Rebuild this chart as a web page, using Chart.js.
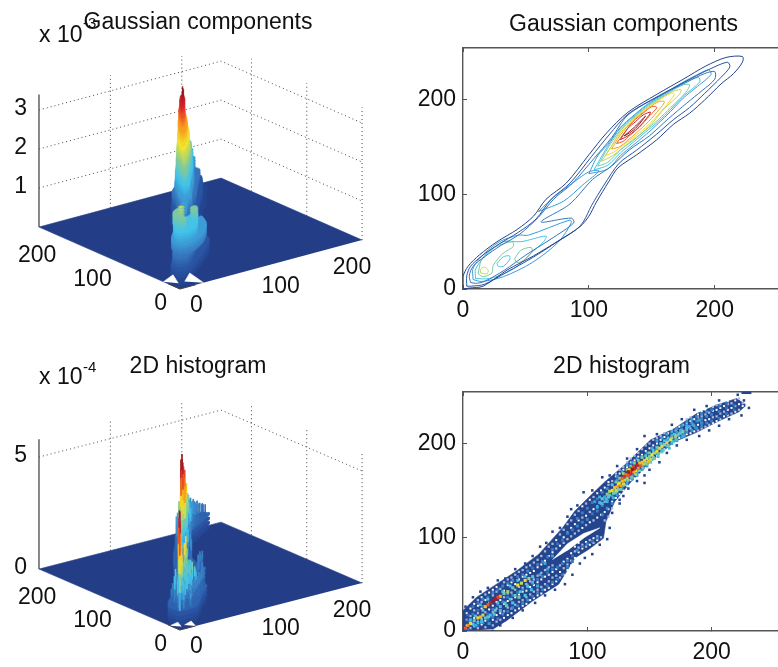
<!DOCTYPE html>
<html>
<head>
<meta charset="utf-8">
<title>Gaussian components and 2D histogram</title>
<script src="https://cdn.jsdelivr.net/npm/chart.js@4"></script>
<style>
  html, body { margin: 0; padding: 0; background: #fff; width: 778px; height: 667px; overflow: hidden; }
  canvas { position: absolute; filter: blur(0.45px); }
</style>
</head>
<body>
<canvas id="surfTop" style="left:0;top:0" width="396" height="330"></canvas>
<canvas id="contourTop" style="left:400px;top:0" width="384" height="330"></canvas>
<canvas id="surfBottom" style="left:0;top:340px" width="396" height="327"></canvas>
<canvas id="histBottom" style="left:400px;top:340px" width="384" height="327"></canvas>
<script>
// --- data ---
const titleGauss = 'Gaussian components';
const titleHist = '2D histogram';
const xyTicks = [0, 100, 200];
const planeTicks = [0, 100, 200];
const gaussZTicks = [1, 2, 3];
const histZTicks = [0, 5];

// contour heights (x 10^-3) and the closed outlines at each height
const contourLevels = [0.1, 0.4, 0.7, 1.0, 1.3, 1.6, 1.9, 2.2, 2.5, 2.8, 3.1, 3.35];
const contourShapes = [
  [[[0,0],[0,13],[4,24],[13,36],[27,50],[43,63],[56,77],[66,95],[82,112],[100,142],[114,165],[131,187],[154,206],[175,222],[193,236],[209,245],[222,246],[222,240],[215,228],[205,217],[192,200],[180,186],[167,174],[154,158],[138,142],[123,128],[116,114],[106,92],[100,77],[93,66],[77,52],[56,35],[35,20],[16,3],[5,1]]],
  [[[3,3],[3,14],[6,24],[15,35],[28,47],[44,60],[58,74],[70,95],[85,112],[102,140],[116,163],[131,185],[155,204],[176,219],[195,232],[210,240],[212,235],[205,224],[192,207],[180,192],[167,179],[154,164],[138,147],[124,133],[112,110],[102,88],[96,72],[90,63],[75,50],[55,33],[35,18],[17,5],[7,3]]],
  [[[6,7],[5,14],[8,24],[17,34],[30,46],[45,58],[60,76],[72,95],[87,112],[104,138],[118,160],[131,184],[157,205],[178,219],[192,228],[200,230],[200,222],[190,210],[178,197],[163,180],[148,162],[132,147],[118,130],[103,116],[85,90],[62,71],[86,75],[88,70],[70,53],[50,36],[33,20],[17,8],[10,6]]],
  [[[8,10],[8,22],[15,35],[29,50],[44,57],[52,57],[85,73],[86,70],[76,50],[55,28],[32,13],[15,8]],
   [[60,82],[72,97],[88,113],[100,124],[108,125],[95,110],[80,93]],
   [[100,122],[107,141],[115,153],[125,171],[135,183],[145,194],[155,203],[165,211],[175,219],[185,226],[195,232],[197,227],[185,213],[175,202],[165,188],[155,175],[145,163],[135,152],[125,141],[115,127]]],
  [[[10,11],[10,21],[17,34],[32,50],[46,50],[66,56],[64,50],[54,38],[44,25],[34,17],[21,11]],
   [[104,126],[115,151],[125,170],[135,182],[145,193],[155,202],[165,210],[175,218],[187,224],[188,219],[175,204],[165,190],[155,177],[145,166],[135,155],[125,144],[115,131]]],
  [[[12,16],[15,32],[25,44],[39,50],[40,45],[32,38],[24,25],[23,17],[16,13]],
   [[41,32],[46,41],[54,44],[55,40],[49,31],[43,28]],
   [[107,130],[115,149],[125,168],[135,181],[145,192],[155,201],[165,209],[175,216],[180,216],[177,208],[165,192],[155,179],[145,168],[135,157],[125,147],[115,134]]],
  [[[14,17],[14,21],[17,23],[20,20],[19,16]],
   [[110,135],[118,151],[125,167],[135,180],[145,191],[155,200],[165,208],[173,211],[172,206],[160,191],[150,175],[140,163],[130,153],[120,142]]],
  [[[113,141],[125,165],[135,179],[145,190],[155,199],[165,207],[168,206],[160,192],[150,177],[140,165],[130,155],[120,145]]],
  [[[118,148],[125,163],[135,178],[145,189],[155,198],[160,198],[154,187],[145,174],[135,162],[125,151]]],
  [[[122,154],[128,165],[135,177],[143,186],[150,193],[154,192],[148,183],[140,171],[133,163],[127,156]]],
  [[[125,158],[131,170],[137,177],[143,184],[149,187],[143,176],[137,168],[131,162]]],
  [[[128,162],[136,171],[145,183],[137,170],[131,164]]]
];
// small closed ring round the dip between the two low bumps, at height 1.3
const contourDip = [[27,27],[32,34],[37,35],[37,31],[32,24],[28,24]];

// 2D histogram: outline of the occupied band and the white gap between its branches
const histBand = [[0,0],[0,22],[11,36],[27,50],[43,64],[61,82],[80,110],[90,128],[103,145],[114,159],[130,177],[151,204],[170,216],[188,232],[204,241],[220,248],[228,241],[222,234],[204,223],[188,212],[170,202],[154,184],[135,159],[122,138],[115,117],[113,99],[101,87],[90,78],[77,50],[56,32],[35,11],[24,2]];
const histGap = [[72,76],[84,93],[97,104],[110,110],[98,100],[84,86]];
const histTopRun = [[224,254],[232,254]];
// cells as [x, y, height x 10^-4]
const ridgeCells = [[110,137,1.8],[112,141,2.1],[114,143,1.6],[116,146,2.4],[117,143,2],[118,149,2.8],[120,150,3.2],[121,147,2.3],[122,153,3.4],[123,150,2.9],[124,154,3.6],[125,157,3.2],[125,151,2.2],[126,158,2.7],[127,155,3.7],[128,160,3.5],[128,163,4],[129,157,2.9],[130,165,4.3],[130,161,3.4],[131,167,3.9],[132,163,2.7],[133,170,4.7],[133,166,4.1],[134,172,3.1],[135,168,4.4],[136,172,4.9],[137,170,3.6],[137,175,4.2],[138,173,4.5],[139,171,3.2],[140,177,4.6],[141,174,3.8],[142,179,3.5],[143,176,4.1],[144,180,3.4],[145,178,2.8],[146,182,3.3],[147,179,2.5],[148,184,2.9],[149,181,3.4],[150,186,2.4],[151,183,2.8],[152,188,3.1],[153,185,2.3],[154,190,2.7],[156,192,3.2],[157,189,2.2],[158,195,2.8],[160,197,3],[161,193,2.1],[162,199,2.6],[164,201,2.9],[165,198,2.3],[167,204,3],[168,206,2.6],[169,202,1.9],[171,207,2.5],[173,209,2.2],[175,211,2],[177,213,2.3],[178,209,1.6],[180,216,1.9],[182,218,1.7],[185,220,1.6],[187,217,1.3],[190,225,1.5],[192,222,1.3]];
const ridgeHalo = [[112,136,2],[115,141,2.2],[118,145,2.4],[121,142,2],[124,149,2.4],[127,151,2.6],[130,156,2.5],[133,161,2.8],[136,164,2.6],[139,167,2.9],[142,171,2.5],[145,174,2.4],[148,178,2.3],[151,180,2.5],[154,184,2.2],[157,186,2.1],[160,191,2.3],[120,156,2.2],[123,159,2.5],[126,163,2.7],[129,168,2.9],[132,172,2.8],[135,176,2.5],[138,179,2.7],[141,182,2.4],[144,185,2.6],[147,187,2.3],[150,190,2.5],[153,193,2.2],[156,196,2.4],[159,200,2.1],[162,203,2.3],[165,206,2.1],[170,210,2.2],[175,214,1.9],[180,219,1.8],[172,204,2],[177,208,1.9],[166,195,2],[116,138,1.9],[108,132,1.8],[106,138,1.7],[110,143,1.9]];
const lowerCells = [[2,3,4.1],[4,6,3.8],[6,8,3],[9,11,2.2],[12,14,3.2],[14,15,3.5],[16,17,2.8],[18,26,3.4],[20,28,4.1],[22,30,4.5],[24,32,4.8],[26,34,4.7],[28,36,4.2],[30,37,3.6],[33,40,2.3],[36,42,2.6],[40,46,2.2],[44,49,3],[47,51,2.8],[50,54,3.2],[53,56,2.6],[56,58,2],[25,18,2],[30,22,1.8],[35,27,2.2],[40,30,1.9],[45,36,2.3],[50,38,2],[55,44,1.8],[60,48,1.6],[10,6,1.6],[21,8,1.4],[15,10,1.8],[20,15,2]];
const lowerHalo = [[8,7,2.2],[12,9,2],[18,14,2.3],[22,17,2.1],[26,22,2.4],[30,26,2.1],[34,30,2.3],[38,34,2.2],[42,38,2.4],[46,42,2.1],[52,48,2.2],[6,12,2],[10,16,2.1],[16,22,2.3],[14,28,2],[20,34,2.2],[28,30,2.1],[32,42,2.3],[38,48,2],[44,54,2.2],[50,58,1.9],[56,52,2],[62,60,1.8],[68,66,1.7],[66,72,1.8],[72,80,1.7]];
// columns of mid blue cells: [x, height, [y, ...]]
const midColumns = [[4,1.3,[2,11,17]],[8,1.5,[8,18,26]],[12,1.4,[6,22,30]],[16,1.6,[9,26,34]],[20,1.4,[12,18,36]],[24,1.7,[15,23,41]],[28,1.5,[13,28,44]],[32,1.8,[18,31,48]],[36,1.6,[21,36,51]],[40,1.8,[25,38,54]],[44,1.6,[27,41,58]],[48,1.7,[30,44,60]],[52,1.8,[33,47,64]],[56,1.5,[37,51,67]],[60,1.6,[41,55,71]],[64,1.7,[44,58,74]],[68,1.5,[48,62,79]],[72,1.6,[52,66,87]],[76,1.4,[55,68,93]],[80,1.5,[60,72,97]],[84,1.6,[68,75,104]],[88,1.5,[74,80,108]],[92,1.7,[86,112,120]],[96,1.6,[90,116,126]],[100,1.7,[93,119,131]],[104,1.5,[96,125,137]],[108,1.6,[99,128,141]],[112,1.8,[124,134,148]],[116,1.9,[131,140,152]],[120,1.8,[136,144,156]],[124,2,[145,161,165]],[128,2,[152,155,170]],[132,2.1,[157,160,177]],[136,2.2,[162,166,180]],[140,2.1,[166,170,184]],[144,2.2,[172,177,186]],[148,2.1,[176,180,190]],[152,2.2,[183,187,195]],[156,2.1,[189,196,203]],[160,2.1,[192,200,206]],[164,2.2,[197,204,210]],[168,2.3,[200,209,213]],[172,2.1,[203,212,216]],[176,2,[207,215,219]],[180,1.9,[212,219,223]],[184,2,[214,222,226]],[188,1.8,[216,224,229]],[192,1.7,[219,226,232]],[196,1.8,[222,229,234]],[200,1.6,[224,231,236]],[206,1.5,[227,234,240]],[212,1.4,[232,238,243]],[218,1.3,[236,241]]];
// columns of almost empty cells inside the band: [x, [y, ...]]
const paleColumns = [[3,[6,12,19]],[6,[3,9,16,24]],[9,[5,14,22,29]],[12,[3,10,19,27,33]],[15,[7,13,24,31,36]],[18,[4,11,20,33,39]],[21,[8,15,23,30,41]],[24,[6,12,20,27,38,44]],[27,[10,17,24,31,42,47]],[30,[12,19,26,33,45]],[33,[14,21,29,36,43,52]],[36,[17,25,32,40,49,55]],[39,[19,24,34,41,52,57]],[42,[22,28,36,44,50,60]],[45,[24,31,39,47,55,63]],[48,[27,33,42,46,58,65]],[51,[29,36,43,50,60,68]],[54,[33,39,47,53,62,70]],[57,[35,42,49,55,64,73]],[60,[38,44,52,59,68,76]],[63,[40,47,55,62,71,80]],[66,[44,50,58,65,75,85]],[69,[46,53,60,68,80,90]],[72,[50,57,63,70,84,93]],[75,[53,59,66,88,97]],[78,[57,63,70,91,103]],[81,[60,67,74,94,100,108]],[84,[65,71,77,98,105,114]],[87,[70,75,83,101,110,118]],[90,[78,85,90,104,114,124]],[93,[84,89,94,107,118,128]],[96,[88,92,110,121,133]],[99,[90,95,113,123,136]],[102,[92,97,116,127,140]],[105,[94,99,118,130,143]],[108,[97,101,121,133,147]],[111,[100,124,136,150]],[114,[118,127,138,153]],[117,[122,130,156,159]],[120,[131,138,160]],[123,[142,147,165,168]],[126,[146,151,168,172]],[129,[150,155,172,175]],[132,[155,159,175,180]],[135,[161,164,180,184]],[138,[163,168,182,187]],[141,[167,171,186,190]],[144,[170,175,188,194]],[147,[174,178,192,198]],[150,[178,182,195,200]],[153,[185,190,198,204]],[156,[187,191,200,206]],[159,[190,194,204,208]],[162,[194,198,207,211]],[165,[198,203,211]],[168,[201,206,213,216]],[171,[204,209,214]],[174,[206,211,218]],[177,[208,212,220]],[180,[210,214,222,226]],[183,[211,216,224,228]],[186,[213,219,226]],[189,[214,220,228,231]],[192,[216,222,229,234]],[195,[218,225,231,236]],[198,[220,226,233]],[201,[222,228,235,239]],[204,[224,229,236,241]],[207,[226,232,238,242]],[210,[229,234,240]],[213,[230,236,242,245]],[216,[232,238,243]],[219,[234,240,246]],[222,[236,242,248]],[225,[240,243]],[228,[241]]];
const edgeSpecks = [[2,26],[8,36],[14,42],[20,46],[28,54],[34,56],[42,66],[50,72],[56,80],[62,90],[67,94],[72,106],[78,110],[84,122],[87,130],[92,134],[97,148],[104,150],[112,164],[118,166],[124,176],[132,184],[140,194],[146,208],[156,210],[168,220],[176,226],[186,236],[196,240],[206,246],[221,252],[226,246],[230,238],[224,230],[214,226],[206,219],[198,214],[190,208],[180,204],[172,198],[164,190],[158,180],[150,172],[146,166],[140,160],[133,152],[129,144],[126,136],[120,126],[118,110],[116,98],[110,92],[104,82],[98,78],[94,72],[88,60],[82,50],[74,44],[66,38],[58,30],[48,22],[40,14],[30,6],[24,0],[126,140],[146,158]];
const floorGapsTop = [[[33,0],[40,34],[19,16]], [[0,30],[22,41],[10,16]]];
const floorGapsBottom = [[[22,0],[28,16],[14,10]], [[0,18],[14,22],[8,8]]];

// --- colour map, muted like the printed figure ---
const mapStops = [[35,62,135],[42,86,166],[58,134,200],[63,195,236],[140,203,143],[242,230,43],[247,148,30],[224,38,43],[125,20,22]];
function mapColor(t) {
  const p = Math.max(0, Math.min(1, t)) * (mapStops.length - 1);
  const i = Math.min(Math.floor(p), mapStops.length - 2);
  const f = p - i;
  const c = mapStops[i].map((v, n) => Math.round(v + (mapStops[i + 1][n] - v) * f));
  return `rgb(${c[0]},${c[1]},${c[2]})`;
}

const font = 'Liberation Sans, Arial, sans-serif';
const tickSize = 23;
const titleSize = 23;
const titleLine = titleSize * 1.2;
const dotted = '#444';

function toPoints(list) { return list.map(p => ({ x: p[0], y: p[1] })); }

function shape(points, color, tension) {
  return { data: points, showLine: true, fill: 'shape', backgroundColor: color, borderColor: color, borderWidth: 0.6, pointRadius: 0, tension: tension === undefined ? 0.25 : tension, clip: false };
}
function stroke(points, color, width, dash) {
  return { data: points, showLine: true, fill: false, borderColor: color, borderWidth: width, borderDash: dash || [], pointRadius: 0, clip: false };
}
function dots(points, color, size) {
  return { data: points, showLine: false, pointStyle: 'rect', pointRadius: size, pointBackgroundColor: color, pointBorderWidth: 0, clip: true };
}

// --- the 3D panels: fixed orthographic view onto the canvas ---
function makeView(o) {
  return (x, y, z) => ({ x: o.ox + x * o.xx + y * o.yx, y: o.oy + x * o.xy + y * o.yy - z * o.zz });
}

function wallDatasets(view, zTicks, zTop) {
  const list = [];
  zTicks.forEach(z => {
    list.push(stroke([view(0,255,z), view(255,255,z), view(255,0,z)], dotted, 1, [1,3]));
  });
  planeTicks.forEach(t => {
    if (t > 0) list.push(stroke([view(t,255,0), view(t,255,zTop)], dotted, 1, [1,3]));
    list.push(stroke([view(255,t,0), view(255,t,zTop)], dotted, 1, [1,3]));
  });
  return list;
}

function floorDatasets(view, zTop) {
  const floor = [[255,0],[255,255],[0,255],[0,0]].map(p => view(p[0], p[1], 0));
  return [stroke([view(0,255,0), view(0,255,zTop)], '#555', 1.4), shape(floor, mapColor(0), 0)];
}

function cornerDatasets(view, gaps) {
  const list = gaps.map(g => shape(g.map(p => view(p[0], p[1], 0)), '#fff', 0));
  list.push(stroke([view(0,22,0), view(0,0,0), view(22,0,0)], '#444', 1));
  return list;
}

function labelPlugin(view, zTicks, expText, expY, textY) {
  return {
    id: 'labels3d',
    afterDraw(chart) {
      const ctx = chart.ctx;
      ctx.save();
      ctx.fillStyle = '#111';
      ctx.textBaseline = 'middle';
      ctx.font = `${tickSize}px ${font}`;
      ctx.textAlign = 'left';
      planeTicks.forEach(t => {
        const p = view(t, 0, 0);
        ctx.fillText(String(t), p.x + 10, p.y + 17);
      });
      ctx.textAlign = 'right';
      planeTicks.forEach(t => {
        const p = view(0, t, 0);
        ctx.fillText(String(t), p.x - 13, p.y + 15);
      });
      zTicks.forEach(z => {
        const p = view(0, 255, z);
        ctx.fillText(String(z), p.x - 12, p.y - 1);
      });
      ctx.textAlign = 'left';
      ctx.fillText('x 10', 39, textY);
      ctx.font = `15px ${font}`;
      ctx.fillText(expText, 83, expY);
      ctx.restore();
    }
  };
}

function surfaceOptions(title, top, padTop, height) {
  return {
    responsive: false,
    animation: false,
    events: [],
    layout: { padding: 0 },
    plugins: {
      legend: { display: false },
      tooltip: { enabled: false },
      title: { display: true, text: title, color: '#111', font: { family: font, size: titleSize, weight: 'normal', lineHeight: 1.2 }, padding: { top: padTop, bottom: top - padTop - titleLine } }
    },
    scales: {
      x: { type: 'linear', display: false, min: 0, max: 396 },
      y: { type: 'linear', display: false, min: top, max: height, reverse: true }
    }
  };
}

// --- top left: surface built up from the contour outlines ---
const gaussView = makeView({ ox: 180, oy: 289, xx: 0.714, xy: -0.192, yx: -0.553, yy: -0.243, zz: 39 });
const gaussTop = 3.4;
let surfSets = [];
surfSets = surfSets.concat(wallDatasets(gaussView, gaussZTicks, gaussTop), floorDatasets(gaussView, gaussTop));
contourLevels.forEach((level, k) => {
  const below = k ? contourLevels[k - 1] : 0;
  for (let s = 1; s <= 4; s++) {
    const z = below + (level - below) * s / 4;
    contourShapes[k].forEach(outline => {
      surfSets.push(shape(outline.map(p => gaussView(p[0], p[1], z)), mapColor(z / gaussTop)));
    });
  }
});
surfSets = surfSets.concat(cornerDatasets(gaussView, floorGapsTop));

new Chart(document.getElementById('surfTop'), {
  type: 'scatter',
  data: { datasets: surfSets.reverse() },
  options: surfaceOptions(titleGauss, 40, 9, 330),
  plugins: [labelPlugin(gaussView, gaussZTicks, '-3', 24, 36)]
});

// --- bottom left: histogram cells as spikes, far ones first ---
const histView = makeView({ ox: 180, oy: 290, xx: 0.714, xy: -0.184, yx: -0.553, yy: -0.239, zz: 22.4 });
const histTop = 5.8;
const hotCells = ridgeCells.concat(lowerCells);
const haloCells = ridgeHalo.concat(lowerHalo);
const midCells = [];
midColumns.forEach(col => col[2].forEach(y => midCells.push([col[0], y, col[1]])));
let histSets = [];
histSets = histSets.concat(wallDatasets(histView, histZTicks.slice(1), histTop), floorDatasets(histView, histTop));
[0.2, 0.4, 0.6, 0.8].forEach(z => {
  histSets.push(shape(histBand.map(p => histView(p[0], p[1], z)), mapColor(z / 5), 0));
});
const taggedCells = midCells.map(c => ({ c, div: 7 })).concat(haloCells.map(c => ({ c, div: 5.5 })), hotCells.map(c => ({ c, div: 5 })));
taggedCells.sort((a, b) => (b.c[0] + b.c[1]) - (a.c[0] + a.c[1])).forEach(({ c, div }) => {
  // each spike runs up through the colours of its height
  const steps = c[2] > 2 ? 4 : 2;
  for (let s = 0; s < steps; s++) {
    const z0 = 0.8 + (c[2] - 0.8) * s / steps;
    const z1 = 0.8 + (c[2] - 0.8) * (s + 1) / steps;
    histSets.push(stroke([histView(c[0], c[1], z0), histView(c[0], c[1], z1)], mapColor(z1 / div), 1.6));
  }
});
histSets = histSets.concat(cornerDatasets(histView, floorGapsBottom));

new Chart(document.getElementById('surfBottom'), {
  type: 'scatter',
  data: { datasets: histSets.reverse() },
  options: surfaceOptions(titleHist, 40, 13, 327),
  plugins: [labelPlugin(histView, histZTicks, '-4', 28, 38)]
});

// --- right column: ordinary 2D axes ---
function planeOptions(title, padTop, top, bottomHeight) {
  const ticks = s => { s.ticks = xyTicks.map(v => ({ value: v })); };
  const label = { color: '#111', font: { family: font, size: tickSize } };
  const frame = { drawOnChartArea: false, tickLength: -4, color: '#555' };
  return {
    responsive: false,
    animation: false,
    events: [],
    layout: { padding: 0 },
    plugins: {
      legend: { display: false },
      tooltip: { enabled: false },
      title: { display: true, fullSize: false, text: title, color: '#111', font: { family: font, size: titleSize, weight: 'normal', lineHeight: 1.2 }, padding: { top: padTop, bottom: top - padTop - titleLine } }
    },
    scales: {
      x: { type: 'linear', min: 0, max: 255, afterBuildTicks: ticks, afterFit: s => { s.height = bottomHeight; }, grid: frame, border: { color: '#555', width: 1.4 }, ticks: { ...label, padding: 12, maxRotation: 0 } },
      y: { type: 'linear', min: 0, max: 255, afterBuildTicks: ticks, afterFit: s => { s.width = 63; }, grid: frame, border: { color: '#555', width: 1.4 }, ticks: { ...label, padding: 11 } },
      top: { type: 'linear', position: 'top', min: 0, max: 255, afterBuildTicks: ticks, afterFit: s => { s.height = 0; }, grid: frame, border: { color: '#555', width: 1.4 }, ticks: { display: false } }
    }
  };
}

const contourSets = [];
function addContour(outline, level) {
  const ds = stroke(toPoints(outline.concat([outline[0]])), mapColor(level / gaussTop), 1);
  ds.tension = 0.3;
  ds.clip = true;
  contourSets.push(ds);
}
contourLevels.forEach((level, k) => contourShapes[k].forEach(outline => addContour(outline, level)));
addContour(contourDip, contourLevels[4]);
new Chart(document.getElementById('contourTop'), {
  type: 'scatter',
  data: { datasets: contourSets },
  options: planeOptions(titleGauss, 11, 48, 41)
});

const whites = [], lavender = [];
let speckCount = 0;
paleColumns.forEach(col => col[1].forEach(y => {
  (speckCount++ % 2 ? lavender : whites).push({ x: col[0], y });
}));
const histPlane = [
  shape(toPoints(histBand), mapColor(0.03), 0),
  dots(toPoints(edgeSpecks), mapColor(0.03), 1.8),
  shape(toPoints(histGap), '#fff', 0),
  dots(whites, '#fff', 1.4),
  dots(lavender, '#a9b8dc', 1.6),
  stroke(toPoints(histTopRun), mapColor(0.03), 2.2)
];
midCells.forEach(c => histPlane.push(dots([{ x: c[0], y: c[1] }], mapColor(c[2] / 7), 2)));
haloCells.forEach(c => histPlane.push(dots([{ x: c[0], y: c[1] }], mapColor(c[2] / 5.5), 2)));
hotCells.slice().sort((a, b) => a[2] - b[2]).forEach(c => {
  histPlane.push(dots([{ x: c[0], y: c[1] }], mapColor(c[2] / 5), 2.2));
});
new Chart(document.getElementById('histBottom'), {
  type: 'scatter',
  data: { datasets: histPlane.reverse() },
  options: planeOptions(titleHist, 13, 52, 36)
});
</script>
</body>
</html>
